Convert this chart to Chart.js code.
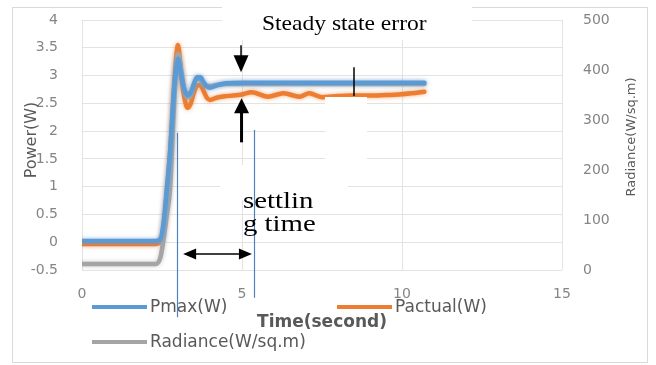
<!DOCTYPE html>
<html>
<head>
<meta charset="utf-8">
<script src="https://cdn.jsdelivr.net/npm/chart.js@4.4.1/dist/chart.umd.min.js"></script>
<style>
  html, body { margin: 0; padding: 0; background: #fff; }
  #wrap { width: 656px; height: 365px; position: relative; }
</style>
</head>
<body>
<div id="wrap"><canvas id="chart"></canvas></div>
<script>
// === DATA ===
const timeSec  = [0, 2.3, 2.45, 2.55, 2.65, 2.75, 2.9, 3.0, 3.1, 3.2, 3.3, 3.4, 3.5, 3.6, 3.7, 3.8, 3.9, 4.0, 4.2, 4.5, 5.0, 5.3, 5.8, 6.3, 6.8, 7.1, 7.5, 8.0, 8.4, 9.0, 9.5, 9.9, 10.3, 10.7];
const pmax     = [0.02, 0.02, 0.06, 0.35, 0.95, 1.6, 2.9, 3.3, 3.0, 2.75, 2.65, 2.7, 2.85, 2.97, 2.97, 2.88, 2.8, 2.78, 2.82, 2.86, 2.87, 2.87, 2.87, 2.87, 2.87, 2.87, 2.87, 2.87, 2.87, 2.87, 2.87, 2.87, 2.87, 2.87];
const pactual  = [-0.03, -0.03, 0.0, 0.3, 0.9, 1.6, 3.0, 3.55, 3.0, 2.6, 2.42, 2.5, 2.7, 2.82, 2.83, 2.72, 2.6, 2.56, 2.6, 2.63, 2.66, 2.7, 2.62, 2.68, 2.62, 2.68, 2.61, 2.63, 2.64, 2.64, 2.65, 2.66, 2.68, 2.71];
const radiance = [12, 12, 25, 62, 110, 161, 360, 432, 400, 360, 345, 350, 372, 385, 380, 372, 368, 368, 370, 372, 372, 372, 372, 372, 372, 372, 372, 372, 372, 372, 372, 372, 372, 372];

const xTicks = [0, 5, 10, 15];
const powerRange = [-0.5, 4];
const radianceRange = [0, 500];

const seriesNames = ['Pmax(W)', 'Pactual(W)', 'Radiance(W/sq.m)'];
const seriesColors = ['#5b9bd5', '#ed7d31', '#a5a5a5'];

// annotations in data units (time, power)
const steadyArrowT = 4.97;
const steadyArrowTips = [3.06, 2.59];
const settleLinesT = [2.97, 5.37];
const settleArrow = { t0: 3.16, t1: 5.31, v: -0.21 };
const markerLine = { t: 8.5, v0: 3.15, v1: 2.63 };

const pts = (ys) => timeSec.map((t, i) => ({ x: t, y: ys[i] }));

const TICK_FONT = { family: "'DejaVu Sans'", size: 14 };
const TICK_COLOR = '#858585';
const TEXT_COLOR = '#595959';

function arrowHead(ctx, x, y, dx, dy, len, half) {
  // tip at (x,y), pointing along (dx,dy)
  ctx.beginPath();
  ctx.moveTo(x, y);
  ctx.lineTo(x - dx * len - dy * half, y - dy * len + dx * half);
  ctx.lineTo(x - dx * len + dy * half, y - dy * len - dx * half);
  ctx.closePath();
  ctx.fill();
}

function wideText(ctx, txt, x, y, sx) {
  ctx.save();
  ctx.translate(x, y);
  ctx.scale(sx, 1);
  ctx.fillText(txt, 0, 0);
  ctx.restore();
}

const decor = {
  id: 'decor',
  beforeDraw(chart) {
    const ctx = chart.ctx;
    ctx.save();
    ctx.fillStyle = '#fff';
    ctx.fillRect(0, 0, chart.width, chart.height);
    ctx.strokeStyle = '#d9d9d9';
    ctx.lineWidth = 1;
    ctx.strokeRect(12.5, 7.5, 635, 355);
    ctx.restore();
  },
  beforeDatasetDraw(chart, args) {
    const ctx = chart.ctx;
    ctx.save();
    ctx.shadowColor = seriesColors[args.index] + '99';
    ctx.shadowBlur = 4;
  },
  afterDatasetDraw(chart) { chart.ctx.restore(); },
  afterDraw(chart) {
    const ctx = chart.ctx, a = chart.chartArea;
    const xs = chart.scales.x, ys = chart.scales.y;
    ctx.save();

    // white text boxes pasted over the figure
    ctx.fillStyle = '#fff';
    ctx.fillRect(222, 0, 250, 40);
    ctx.fillRect(325, 97, 42, 65);
    ctx.fillRect(220, 165, 128, 35);

    // legend
    chart.data.datasets.forEach((ds, i) => {
      const slot = [[92, 307], [337, 307], [92, 342]][i];
      ctx.strokeStyle = ds.borderColor;
      ctx.lineWidth = 4;
      ctx.beginPath();
      ctx.moveTo(slot[0], slot[1]);
      ctx.lineTo(slot[0] + 55, slot[1]);
      ctx.stroke();
      ctx.fillStyle = TEXT_COLOR;
      ctx.font = "17px 'DejaVu Sans'";
      ctx.textBaseline = 'middle';
      ctx.textAlign = 'left';
      ctx.fillText(ds.label, slot[0] + 58, slot[1] + 1);
    });

    // axis titles
    ctx.fillStyle = TEXT_COLOR;
    ctx.font = "bold 17px 'DejaVu Sans'";
    ctx.textAlign = 'center';
    ctx.fillText('Time(second)', (a.left + a.right) / 2, 323);
    ctx.save();
    ctx.translate(32, 140);
    ctx.rotate(-Math.PI / 2);
    ctx.font = "16px 'DejaVu Sans'";
    ctx.fillText('Power(W)', 0, 0);
    ctx.restore();
    ctx.save();
    ctx.translate(632, 137);
    ctx.rotate(-Math.PI / 2);
    ctx.font = "13px 'DejaVu Sans'";
    ctx.fillText('Radiance(W/sq.m)', 0, 0);
    ctx.restore();

    // steady state error
    ctx.fillStyle = '#000';
    ctx.textAlign = 'left';
    ctx.textBaseline = 'alphabetic';
    ctx.font = "21px 'Liberation Serif'";
    wideText(ctx, 'Steady state error', 262, 30, 1.12);

    const ax = xs.getPixelForValue(steadyArrowT);
    const downTip = ys.getPixelForValue(steadyArrowTips[0]);
    const upTip = ys.getPixelForValue(steadyArrowTips[1]);
    ctx.strokeStyle = '#000';
    ctx.lineWidth = 1.5;
    ctx.beginPath(); ctx.moveTo(ax, downTip - 27); ctx.lineTo(ax, downTip - 14); ctx.stroke();
    arrowHead(ctx, ax, downTip, 0, 1, 17, 7.5);
    arrowHead(ctx, ax + 0.5, upTip, 0, -1, 15, 7.5);
    ctx.lineWidth = 3;
    ctx.beginPath(); ctx.moveTo(ax + 0.5, upTip + 14); ctx.lineTo(ax + 0.5, upTip + 44); ctx.stroke();

    ctx.lineWidth = 1.5;
    const mx = xs.getPixelForValue(markerLine.t);
    ctx.beginPath(); ctx.moveTo(mx, ys.getPixelForValue(markerLine.v0)); ctx.lineTo(mx, ys.getPixelForValue(markerLine.v1)); ctx.stroke();

    // settling time markers
    ctx.strokeStyle = '#4f81bd';
    ctx.lineWidth = 1.2;
    [[settleLinesT[0], 1.97, -1.35], [settleLinesT[1], 2.02, -1.0]].forEach(([t, v0, v1]) => {
      const px = Math.round(xs.getPixelForValue(t)) + 0.5;
      ctx.beginPath(); ctx.moveTo(px, ys.getPixelForValue(v0)); ctx.lineTo(px, ys.getPixelForValue(v1)); ctx.stroke();
    });
    const hy = ys.getPixelForValue(settleArrow.v);
    const hx0 = xs.getPixelForValue(settleArrow.t0), hx1 = xs.getPixelForValue(settleArrow.t1);
    ctx.strokeStyle = '#000';
    ctx.fillStyle = '#000';
    ctx.lineWidth = 1.5;
    ctx.beginPath(); ctx.moveTo(hx0 + 10, hy); ctx.lineTo(hx1 - 10, hy); ctx.stroke();
    arrowHead(ctx, hx0, hy, -1, 0, 13, 5.5);
    arrowHead(ctx, hx1, hy, 1, 0, 13, 5.5);

    ctx.font = "24px 'Liberation Serif'";
    wideText(ctx, 'settlin', 243, 208, 1.2);
    wideText(ctx, 'g time', 243, 231, 1.2);

    ctx.restore();
  }
};

const plainNum = v => String(Number(v));
const fitY = w => s => { s.width = w; s.paddingTop = 0; s.paddingBottom = 0; };

new Chart(document.getElementById('chart'), {
  type: 'line',
  data: {
    datasets: [
      { label: seriesNames[0], data: pts(pmax), borderColor: seriesColors[0], yAxisID: 'y', order: 0 },
      { label: seriesNames[1], data: pts(pactual), borderColor: seriesColors[1], yAxisID: 'y', order: 2 },
      { label: seriesNames[2], data: pts(radiance), borderColor: seriesColors[2], yAxisID: 'y1', order: 1 }
    ]
  },
  options: {
    responsive: true,
    maintainAspectRatio: false,
    animation: false,
    layout: { padding: { top: 20 } },
    elements: {
      line: { borderWidth: 4.5, cubicInterpolationMode: 'monotone', borderCapStyle: 'round', borderJoinStyle: 'round' },
      point: { radius: 0 }
    },
    plugins: { legend: { display: false }, tooltip: { enabled: false } },
    scales: {
      x: {
        type: 'linear', min: xTicks[0], max: xTicks[xTicks.length - 1],
        afterBuildTicks: s => { s.ticks = xTicks.map(v => ({ value: v })); },
        ticks: { color: TICK_COLOR, font: TICK_FONT, padding: 16, maxRotation: 0, callback: plainNum },
        grid: { color: '#e3e3e3', drawTicks: false },
        border: { display: false },
        afterFit: s => { s.height = 95; s.paddingLeft = 0; s.paddingRight = 0; }
      },
      y: {
        position: 'left', min: powerRange[0], max: powerRange[1],
        ticks: { stepSize: 0.5, color: TICK_COLOR, font: TICK_FONT, padding: 24, callback: plainNum },
        grid: { color: '#e3e3e3', drawTicks: false },
        border: { display: false },
        afterFit: fitY(82)
      },
      y1: {
        position: 'right', min: radianceRange[0], max: radianceRange[1],
        ticks: { stepSize: 100, color: TICK_COLOR, font: TICK_FONT, padding: 21, callback: plainNum },
        grid: { display: false, drawTicks: false },
        border: { display: false },
        afterFit: fitY(94)
      }
    }
  },
  plugins: [decor]
});
</script>
</body>
</html>
